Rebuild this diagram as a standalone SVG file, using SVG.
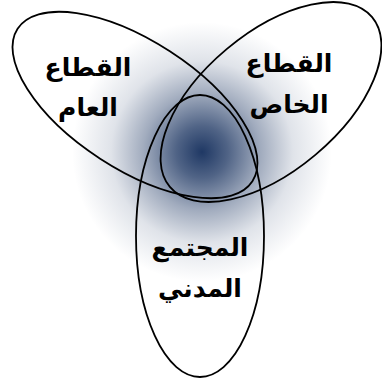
<svg xmlns="http://www.w3.org/2000/svg" width="382" height="383" viewBox="0 0 382 383">
<defs>
<radialGradient id="glow" cx="202" cy="152" r="130" gradientUnits="userSpaceOnUse">
<stop offset="0" stop-color="#1F3864" stop-opacity="1"/>
<stop offset="0.2" stop-color="#1F3864" stop-opacity="0.78"/>
<stop offset="0.45" stop-color="#1F3864" stop-opacity="0.42"/>
<stop offset="0.7" stop-color="#1F3864" stop-opacity="0.14"/>
<stop offset="1" stop-color="#1F3864" stop-opacity="0"/>
</radialGradient>
<style>
.shape{fill:none;stroke:#000;stroke-width:1.8}
.lbl{font-family:"DejaVu Sans",sans-serif;font-weight:bold;font-size:25px;fill:#000;text-anchor:middle}
</style>
</defs>
<rect width="382" height="383" fill="#fff"/>
<circle cx="202" cy="152" r="130" fill="url(#glow)"/>
<g id="public-sector">
<ellipse class="shape" cx="135" cy="105" rx="140" ry="64" transform="rotate(33 135 105)"/>
<text class="lbl" x="88" y="76">القطاع</text>
<text class="lbl" x="88" y="116">العام</text>
</g>
<g id="private-sector">
<ellipse class="shape" cx="271" cy="102" rx="132" ry="69" transform="rotate(-40 271 102)"/>
<text class="lbl" x="289" y="72">القطاع</text>
<text class="lbl" x="289" y="113">الخاص</text>
</g>
<g id="civil-society">
<ellipse class="shape" cx="200" cy="236" rx="64" ry="141"/>
<text class="lbl" x="200" y="256">المجتمع</text>
<text class="lbl" x="200" y="297">المدني</text>
</g>
<g id="connectors"/>
</svg>
